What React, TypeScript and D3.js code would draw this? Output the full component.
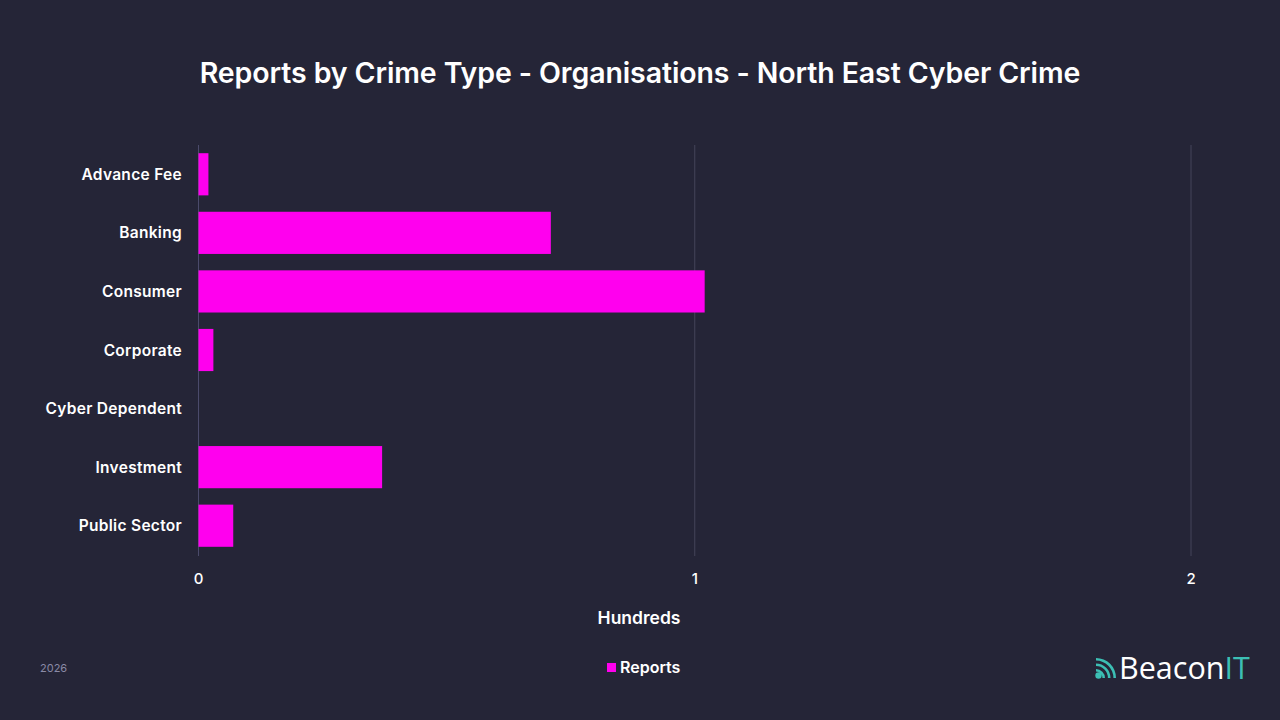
import React from "react";
import * as d3 from "d3";

const categories = ["Advance Fee", "Banking", "Consumer", "Corporate", "Cyber Dependent", "Investment", "Public Sector"];
const reports = [2, 71, 102, 3, 0, 37, 7];
const xTicks = [0, 1, 2];

const W = 1280, H = 720;
const BG = "#252537";
const BAR = "#ff00ee";
const TEAL = "#3cbfb4";
const FONT = "Inter, 'DejaVu Sans', sans-serif";

export default function App() {
  const x = d3.scaleLinear().domain([0, 200]).range([198.5, 1191]);
  const y = d3.scaleBand<string>().domain(categories).range([145, 555]).paddingInner(0.28).paddingOuter(0.14);
  const arc = d3.arc();
  return (
    <svg width={W} height={H} style={{ position: "absolute", left: 0, top: 0, display: "block" }}>
      <rect x={0} y={0} width={W} height={H} fill={BG} />
      <text x={640} y={83} textAnchor="middle" fill="#ffffff" fontFamily={FONT} fontWeight={600} fontSize={28.5} letterSpacing={-0.1}>
        Reports by Crime Type - Organisations - North East Cyber Crime
      </text>
      {xTicks.map((t) => (
        <g key={t}>
          <line x1={x(t * 100)} x2={x(t * 100)} y1={145} y2={556} stroke={t === 0 ? "#4b4b6b" : "#44445a"} strokeWidth={1} />
          <text x={x(t * 100)} y={584} textAnchor="middle" fill="#ffffff" fontFamily={FONT} fontWeight={500} fontSize={15}>{t}</text>
        </g>
      ))}
      {categories.map((c, i) => (
        <g key={c}>
          <rect x={x(0)} y={y(c)!} width={x(reports[i]) - x(0)} height={y.bandwidth()} fill={BAR} />
          <text x={182} y={y(c)! + y.bandwidth() / 2 + 5.5} textAnchor="end" fill="#ffffff" fontFamily={FONT} fontWeight={600} fontSize={15.5} letterSpacing={0.3}>{c}</text>
        </g>
      ))}
      <text x={639} y={624} textAnchor="middle" fill="#ffffff" fontFamily={FONT} fontWeight={600} fontSize={17.5}>Hundreds</text>
      <rect x={607} y={663} width={9} height={9} fill={BAR} />
      <text x={620} y={673} fill="#ffffff" fontFamily={FONT} fontWeight={600} fontSize={16}>Reports</text>
      <text x={40} y={672} fill="#8a8aa6" fontFamily={FONT} fontSize={11}>2026</text>
      <g transform="translate(1096,678)">
        <circle cx={2.5} cy={-2.5} r={3.2} fill={TEAL} />
        {[9, 14.5, 20].map((r) => (
          <path key={r} d={arc({ innerRadius: r - 2.6, outerRadius: r, startAngle: 0, endAngle: Math.PI / 2 }) || ""} fill={TEAL} />
        ))}
      </g>
      <text x={1119} y={679} fill="#ffffff" fontFamily="'Open Sans', sans-serif" fontSize={30.5}>
        Beacon<tspan fill={TEAL}>IT</tspan>
      </text>
    </svg>
  );
}
